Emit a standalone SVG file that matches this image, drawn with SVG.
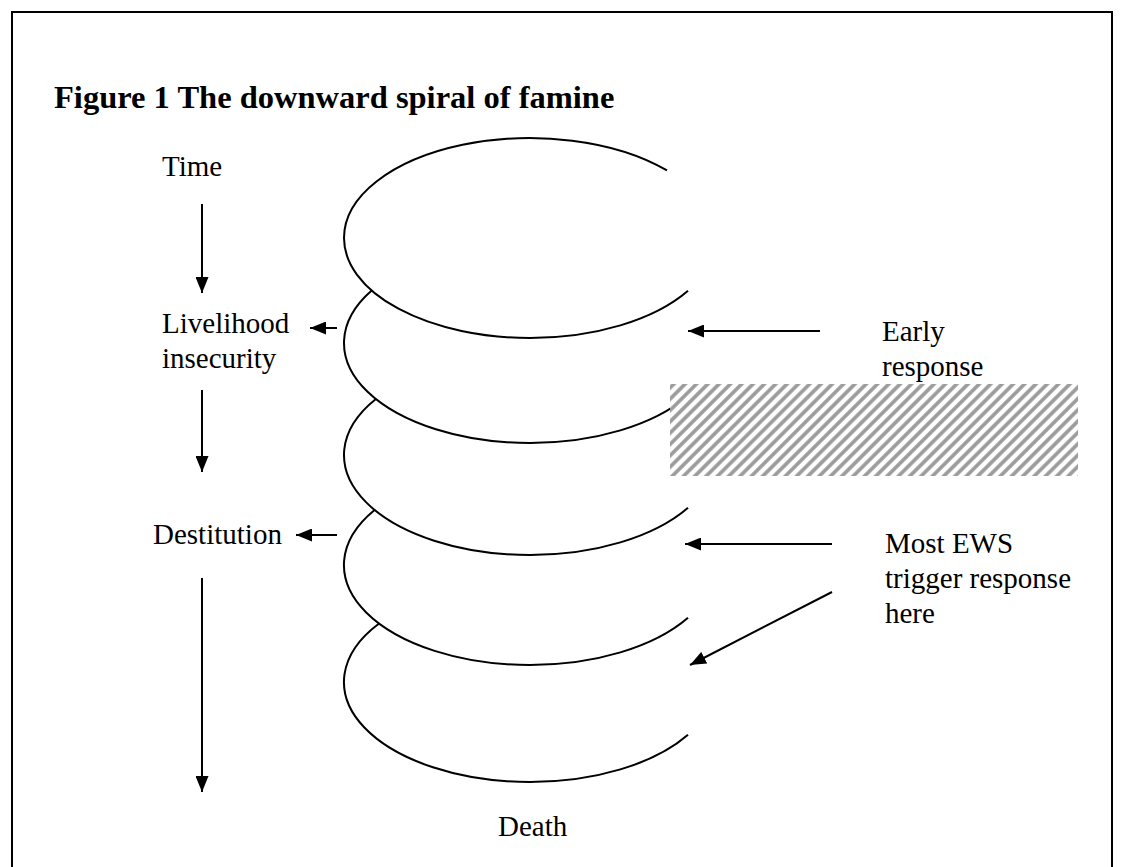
<svg xmlns="http://www.w3.org/2000/svg" width="1125" height="867" viewBox="0 0 1125 867">
  <defs>
    <pattern id="hatch" patternUnits="userSpaceOnUse" width="8" height="8" patternTransform="rotate(45)">
      <rect width="8" height="8" fill="#ffffff"/>
      <line x1="4" y1="0" x2="4" y2="8" stroke="#9a9a9a" stroke-width="3.6"/>
    </pattern>
    <marker id="arrowL" viewBox="0 0 10 10" refX="10" refY="5" markerWidth="16" markerHeight="13" markerUnits="userSpaceOnUse" orient="auto" preserveAspectRatio="none">
      <path d="M0,0 L10,5 L0,10 Z" fill="#000"/>
    </marker>
  </defs>
  <style>
    .lbl { font-family: "Liberation Serif", "Times New Roman", serif; font-size: 29px; fill: #000; }
    .title { font-family: "Liberation Serif", "Times New Roman", serif; font-size: 32.5px; font-weight: bold; fill: #000; }
    .loop { fill: none; stroke: #000; stroke-width: 2; }
    .conn { stroke: #000; stroke-width: 2; fill: none; marker-end: url(#arrowL); }
  </style>
  <rect x="0" y="0" width="1125" height="867" fill="#ffffff"/>
  <rect id="frame" x="12" y="12" width="1100" height="900" fill="none" stroke="#000" stroke-width="2"/>
  <text id="title" class="title" x="54" y="108">Figure 1 The downward spiral of famine</text>

  <g id="spiral">
    <path class="loop" d="M667,170.4 A186,100 0 0 0 344,238 A186,100 0 0 0 530,338 A186,100 0 0 0 688,290.8"/>
    <path class="loop" d="M371.7,290.5 A186,100 0 0 0 530,443 A186,100 0 0 0 688,395.8"/>
    <path class="loop" d="M375.9,399 A186,100 0 0 0 530,555 A186,100 0 0 0 688,507.8"/>
    <path class="loop" d="M374.6,510 A186,100 0 0 0 530,665 A186,100 0 0 0 688,617.8"/>
    <path class="loop" d="M379.1,623.5 A186,100 0 0 0 530,782 A186,100 0 0 0 688,734.8"/>
  </g>

  <rect id="hatched" x="670" y="384" width="408" height="92" fill="url(#hatch)"/>

  <g id="node-time"><text class="lbl" x="162" y="176">Time</text></g>
  <g id="node-livelihood"><text class="lbl" x="162" y="333">Livelihood</text><text class="lbl" x="162" y="368">insecurity</text></g>
  <g id="node-destitution"><text class="lbl" x="153" y="544">Destitution</text></g>
  <g id="node-death"><text class="lbl" x="498" y="836">Death</text></g>
  <g id="node-early"><text class="lbl" x="882" y="341">Early</text><text class="lbl" x="882" y="376">response</text></g>
  <g id="node-ews"><text class="lbl" x="885" y="553">Most EWS</text><text class="lbl" x="885" y="588">trigger response</text><text class="lbl" x="885" y="623">here</text></g>

  <g id="connectors">
    <line class="conn" x1="202" y1="204" x2="202" y2="293"/>
    <line class="conn" x1="202" y1="390" x2="202" y2="472"/>
    <line class="conn" x1="202" y1="578" x2="202" y2="792"/>
    <line class="conn" x1="337" y1="328" x2="310" y2="328"/>
    <line class="conn" x1="337" y1="535" x2="296" y2="535"/>
    <line class="conn" x1="820" y1="331" x2="688" y2="331"/>
    <line class="conn" x1="832" y1="544" x2="685" y2="544"/>
    <line class="conn" x1="832" y1="592" x2="690" y2="665"/>
  </g>
</svg>
